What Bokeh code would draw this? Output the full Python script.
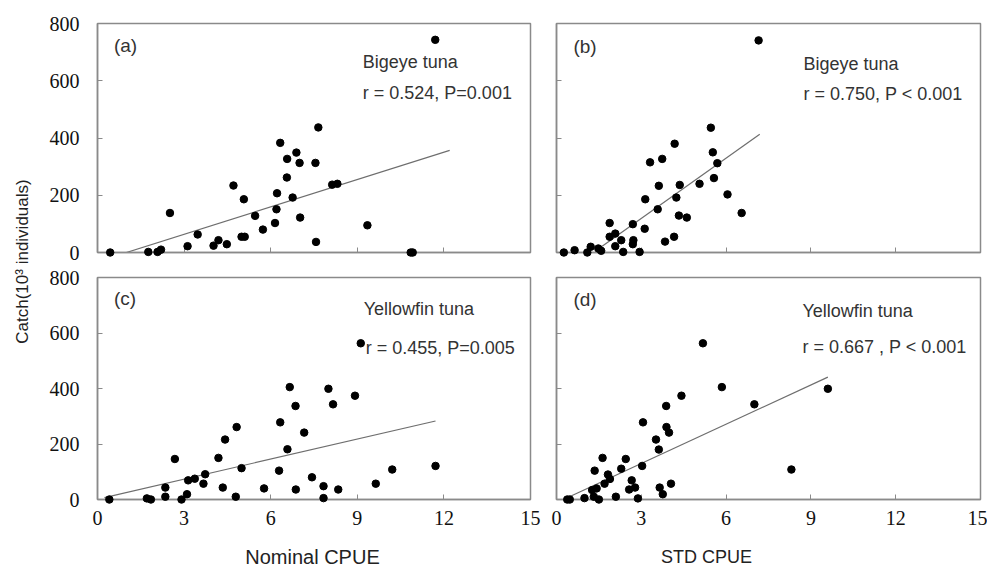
from math import pi
from bokeh.plotting import figure
from bokeh.models import Range1d, FixedTicker, Label
from bokeh.layouts import row, column
from bokeh.embed import file_html
from bokeh.resources import INLINE

x_ticks = [0, 3, 6, 9, 12, 15]
y_ticks = [0, 200, 400, 600, 800]

# (a) Bigeye tuna vs nominal CPUE
a_x = [0.44, 1.76, 2.08, 2.2, 2.51, 3.12, 3.47, 4.02, 4.19, 4.48, 4.71, 4.99, 5.1, 5.07,
       5.46, 5.73, 6.15, 6.2, 6.22, 6.33, 6.56, 6.57, 6.76, 6.89, 7.0, 7.02, 7.55, 7.57,
       7.65, 8.13, 8.31, 9.35, 10.85, 10.92, 11.7]
a_y = [0, 2, 2, 10, 138, 22, 63, 24, 43, 29, 234, 55, 55, 186,
       128, 80, 103, 151, 207, 383, 262, 327, 192, 349, 313, 122, 313, 37,
       437, 237, 240, 95, 0, 0, 743]
a_fit_x = [1.0, 12.2]
a_fit_y = [0, 357]

# (b) Bigeye tuna vs STD CPUE
b_x = [0.26, 0.64, 1.09, 1.21, 1.48, 1.58, 1.88, 1.88, 2.08, 2.08, 2.29, 2.36, 2.7, 2.72,
       2.7, 2.94, 3.12, 3.14, 3.31, 3.58, 3.62, 3.74, 3.84, 4.16, 4.18, 4.24, 4.33, 4.36,
       4.61, 5.06, 5.46, 5.53, 5.57, 5.69, 6.05, 6.55, 7.15]
b_y = [0, 8, 0, 20, 14, 6, 103, 55, 66, 22, 43, 2, 99, 43,
       29, 2, 83, 186, 315, 151, 233, 327, 38, 55, 380, 192, 129, 236,
       122, 240, 436, 350, 260, 312, 203, 138, 741]
b_fit_x = [1.44, 7.19]
b_fit_y = [10, 413]

# (c) Yellowfin tuna vs nominal CPUE
c_x = [0.41, 1.71, 1.85, 2.35, 2.35, 2.68, 2.91, 3.1, 3.14, 3.37, 3.67, 3.73, 4.19, 4.34,
       4.42, 4.79, 4.82, 4.99, 5.77, 6.29, 6.33, 6.58, 6.66, 6.86, 6.87, 7.16, 7.43, 7.83,
       7.83, 8.0, 8.16, 8.34, 8.92, 9.12, 9.64, 10.21, 11.71]
c_y = [0, 4, 0, 43, 10, 146, 0, 19, 69, 75, 57, 91, 150, 43,
       216, 10, 261, 113, 40, 104, 278, 181, 405, 337, 36, 241, 80, 48,
       5, 399, 343, 36, 374, 563, 57, 108, 121]
c_fit_x = [0.24, 11.71]
c_fit_y = [7, 283]

# (d) Yellowfin tuna vs STD CPUE
d_x = [0.38, 0.47, 0.99, 1.26, 1.32, 1.35, 1.42, 1.5, 1.63, 1.7, 1.82, 1.89, 2.1, 2.29,
       2.45, 2.57, 2.66, 2.78, 2.88, 3.03, 3.06, 3.52, 3.62, 3.65, 3.76, 3.88, 3.89, 3.98,
       4.05, 4.42, 5.18, 5.85, 7.0, 8.31, 9.6]
d_y = [0, 0, 5, 34, 10, 104, 40, 0, 150, 57, 90, 74, 10, 111,
       146, 36, 69, 43, 4, 121, 278, 216, 180, 43, 19, 337, 261, 241,
       57, 374, 563, 405, 343, 108, 399]
d_fit_x = [0.4, 9.6]
d_fit_y = [7, 441]

SANS = "Liberation Sans"
SERIF = "Liberation Serif"
GRAY = "#8a8a8a"


def style_axis(ax, ticks, show):
    ax.ticker = FixedTicker(ticks=ticks)
    ax.minor_tick_line_color = None
    ax.major_tick_in = 5
    ax.major_tick_out = 0
    ax.major_tick_line_color = GRAY
    ax.axis_line_color = GRAY
    ax.axis_line_width = 1.5
    ax.major_label_text_font = SERIF
    ax.major_label_text_font_style = "normal"
    ax.major_label_text_color = "#111111"
    if show:
        ax.major_label_text_font_size = "20px"
    else:
        ax.major_label_overrides = {t: "" for t in ticks}
        ax.major_label_text_font_size = "1px"
        ax.major_label_standoff = 0


def panel(xs, ys, fx, fy, width, height, left, right, top, bottom, show_x, show_y):
    p = figure(width=width, height=height, output_backend="svg", toolbar_location=None,
               x_range=Range1d(0, 15), y_range=Range1d(0, 800),
               min_border_left=left, min_border_right=right,
               min_border_top=top, min_border_bottom=bottom)
    p.grid.visible = False
    p.background_fill_color = "white"
    p.border_fill_color = "white"
    p.outline_line_color = GRAY
    p.outline_line_width = 1.5
    style_axis(p.xaxis[0], x_ticks, show_x)
    style_axis(p.yaxis[0], y_ticks, show_y)
    if show_x:
        p.xaxis[0].major_label_standoff = 11
    if show_y:
        p.yaxis[0].major_label_standoff = 18
    p.line(fx, fy, line_color="#6e6e6e", line_width=1.2)
    p.scatter(xs, ys, size=7.5, fill_color="black", line_color="black", level="overlay")
    return p


def add_text(p, x, y, text, size="18px"):
    p.add_layout(Label(x=x, y=y, text=text, text_font=SANS, text_font_size=size,
                       text_color="#333333", text_align="left",
                       text_baseline="middle"))


pa = panel(a_x, a_y, a_fit_x, a_fit_y, 502, 264, 57, 12, 23, 12, False, True)
pb = panel(b_x, b_y, b_fit_x, b_fit_y, 445, 264, 14, 7, 23, 12, False, False)
pc = panel(c_x, c_y, c_fit_x, c_fit_y, 502, 271, 57, 12, 13, 36, True, True)
pd = panel(d_x, d_y, d_fit_x, d_fit_y, 445, 271, 14, 7, 13, 36, True, False)

add_text(pa, 0.57, 723, "(a)", "19px")
add_text(pa, 9.19, 664, "Bigeye tuna")
add_text(pa, 9.19, 556, "r = 0.524, P=0.001")

add_text(pb, 0.6, 721, "(b)", "19px")
add_text(pb, 8.74, 658, "Bigeye tuna")
add_text(pb, 8.74, 552, "r = 0.750, P < 0.001")

add_text(pc, 0.57, 726, "(c)", "19px")
add_text(pc, 9.22, 685, "Yellowfin tuna")
add_text(pc, 9.29, 546, "r = 0.455, P=0.005")

add_text(pd, 0.6, 721, "(d)", "19px")
add_text(pd, 8.7, 681, "Yellowfin tuna")
add_text(pd, 8.7, 550, "r = 0.667 , P < 0.001")


def blank(width, height, xr, yr):
    f = figure(width=width, height=height, output_backend="svg", toolbar_location=None,
               x_range=Range1d(*xr), y_range=Range1d(*yr),
               min_border=0, min_border_left=0, min_border_right=0,
               min_border_top=0, min_border_bottom=0)
    f.axis.visible = False
    f.grid.visible = False
    f.outline_line_color = None
    return f


# y-axis title column (coordinates in pixels of the strip)
pt = blank(40, 570, (0, 40), (0, 570))
pt.add_layout(Label(x=22, y=309, text="Catch(10³ individuals)", angle=pi / 2,
                    text_font=SANS, text_font_size="17px", text_color="#222222",
                    text_align="center", text_baseline="middle"))

# x-axis titles strip (coordinates in pixels of the strip)
px = blank(947, 35, (40, 987), (0, 35))
px.add_layout(Label(x=312, y=14, text="Nominal CPUE", text_font=SANS,
                    text_font_size="20px", text_color="#222222",
                    text_align="center", text_baseline="middle"))
px.add_layout(Label(x=706, y=14, text="STD CPUE", text_font=SANS,
                    text_font_size="18px", text_color="#222222",
                    text_align="center", text_baseline="middle"))

layout = row(pt, column(row(pa, pb), row(pc, pd), px))

open("out.html", "w").write(file_html(layout, INLINE))
